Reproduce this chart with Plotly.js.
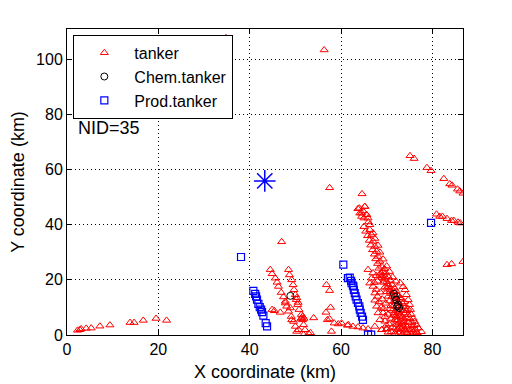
<!DOCTYPE html>
<html>
<head>
<meta charset="utf-8">
<script src="https://cdn.plot.ly/plotly-3.0.1.min.js"></script>
<style>html,body{margin:0;padding:0;background:#fff;}#chart{width:512px;height:384px;}</style>
</head>
<body>
<div id="chart"></div>
<script>
// ---- data (km) ----
const tankerX = [
  2.3,2.8,3.1,4.2,5.3,7.2,9.4,13.8,14.7,16.7,19.5,21.8,
  34.8,56.3,57.5,47.0,
  75.1,76.0,78.8,79.7,82.5,83.8,84.3,85.5,86.0,86.7,
  80.9,81.6,82.2,83.2,84.2,84.7,85.6,86.1,
  83.2,84.2,86.7,
  64.6,63.7,65.2,64.1,64.8,65.6,64.5,65.9,
  44.5,44.9,45.6,46.0,46.3,46.9,47.4,47.8,48.1,48.5,49.1,49.6,50.0,50.3,
  48.5,48.7,49.2,49.5,49.7,50.0,50.2,50.5,50.8,51.3,51.6,51.8,52.1,51.8,
  44.9,45.4,46.7,47.8,48.9,49.2,51.4,51.6,51.2,51.9,54.0,52.9,53.3,50.7,50.6,50.3,
  56.8,57.5,57.7,56.7,57.0,57.5,58.5,59.4,57.9,61.4,
  60.1,61.6,62.6,63.7,64.8,65.9,67.4,68.9,70.0,
  64.0,64.5,65.0,65.0,65.4,65.8,66.2,66.5,66.9,67.3,67.6,68.0,68.3,68.7,69.0,69.3,69.6,70.0,70.3,70.6,70.9,71.2,71.5,71.8,72.1,72.4,72.6,
  65.2,65.6,66.0,66.3,66.7,67.0,67.4,67.8,68.1,68.5,68.9,69.2,69.6,70.0,70.4,70.8,71.2,71.6,72.0,72.4,72.8,73.2,73.6,74.0,
  66.3,67.0,67.4,68.1,68.5,69.2,70.0,70.6,71.3,72.0,73.0,73.6,74.0,74.3,74.7,75.0,75.2,75.4,75.8,76.1,76.5,76.9,77.6,
  65.9,66.7,66.3,67.0,67.4,67.4,67.8,68.1,68.5,69.6,68.9,70.0,
  68.5,69.0,69.5,70.2,70.0,70.7,71.0,71.5,71.8,72.3,72.0,72.6,73.0,73.2,73.5,73.8,74.0,73.0,72.2,73.8,74.4,74.8,73.3,72.8,74.5,75.5,73.0,74.5,75.8,72.0,73.5,71.0,70.5,69.3,69.8,70.3,71.0,69.0,68.6,68.0,67.7,
  69.5,69.8,70.4,70.8,71.2,71.7,72.1,72.6,73.1,73.5,74.0,74.3,74.7,75.1,75.5,75.9,76.3,76.6,
  67.0,67.3,67.7,68.0,68.3,68.8,69.2,69.6,69.9,70.3,71.3,71.7,
  70.8,71.4,71.6,72.0,72.5,73.0,73.4,73.7,74.1,72.7,72.2,71.9,73.9,74.9,75.2,76.2,73.2,74.6,75.6,76.8
];
const tankerY = [
  1.7,1.9,2.2,2.4,2.5,3.2,3.6,4.5,4.5,5.3,6.0,5.3,
  107.8,103.4,53.4,33.8,
  65.0,64.0,60.7,59.6,56.7,54.8,54.3,52.9,52.2,51.4,
  43.8,43.0,43.0,42.2,41.5,41.5,40.9,40.6,
  25.5,25.8,26.6,
  51.2,45.8,46.6,44.2,45.0,43.6,43.0,42.4,
  23.7,22.2,20.6,19.1,17.6,15.4,13.8,12.2,10.4,8.6,6.7,4.9,3.1,1.3,
  23.7,21.8,20.0,18.2,16.4,14.6,12.8,11.0,9.2,7.4,5.5,3.7,1.9,0.1,
  9.2,8.8,8.2,11.6,9.8,5.5,6.2,6.8,5.8,6.0,6.2,0.5,0.8,1.9,11.8,13.5,
  18.2,16.1,10.0,8.2,5.5,5.8,4.3,4.0,1.3,3.5,
  4.3,3.7,3.1,2.9,2.5,2.2,3.1,1.9,2.2,
  46.0,44.2,42.4,39.3,37.6,36.0,34.3,32.6,30.9,29.3,27.6,25.9,24.2,22.5,20.8,19.1,17.4,15.7,14.0,12.3,10.6,8.9,7.2,5.5,3.8,2.1,0.5,
  46.6,43.6,41.0,38.2,36.3,34.0,32.1,30.3,28.5,26.7,24.9,23.0,21.2,19.4,17.6,15.8,14.0,12.2,10.4,8.6,6.8,5.0,3.2,1.4,
  40.0,37.0,35.0,32.5,30.0,27.5,25.0,23.0,21.0,19.5,18.8,17.5,16.4,14.6,12.8,11.0,9.2,7.4,6.0,4.9,3.7,2.5,1.2,
  23.7,20.6,18.8,17.6,15.2,12.6,10.4,8.0,5.5,6.7,1.9,2.2,
  22.0,21.5,20.3,18.5,17.0,16.5,15.0,16.0,13.0,14.5,12.0,11.5,13.5,10.0,9.0,12.0,8.0,7.5,6.5,5.8,6.2,4.5,4.0,2.8,2.8,2.0,1.0,0.8,1.0,0.3,0.3,1.2,4.0,9.5,11.5,7.5,6.0,13.0,15.5,19.5,21.5,
  24.0,22.5,21.0,19.8,18.2,17.0,15.8,14.2,13.0,11.3,10.2,8.8,7.3,5.8,4.6,3.3,2.0,0.8,
  22.5,19.0,16.5,14.0,12.0,10.0,8.0,5.0,3.5,1.0,2.8,0.5,
  9.5,10.5,8.0,7.0,8.0,9.0,6.5,4.8,3.6,4.5,5.0,2.5,2.0,1.8,0.5,0.3,2.2,9.6,3.2,0.4
];
const chemX = [48.9,71.6,71.8,72.1,72.3,72.5,72.7];
const chemY = [14.2,14.9,13.8,12.8,10.4,11.0,9.8];
const prodX = [38.1,40.8,41.2,41.4,41.6,41.9,42.2,42.5,42.7,43.0,43.5,43.8,
  60.5,61.5,61.9,62.2,62.3,62.6,62.7,62.8,63.0,63.2,63.4,63.7,64.0,64.1,64.3,64.6,64.8,
  65.9,66.6,79.7];
const prodY = [28.3,16.0,14.9,14.0,12.8,11.3,10.1,9.2,8.3,7.0,4.3,3.1,
  25.5,20.6,20.8,19.6,18.8,17.9,17.6,16.4,15.2,14.0,12.8,11.6,10.4,9.2,8.0,6.7,5.5,
  0.1,0.1,40.7];
const siteX = [43.3];
const siteY = [55.9];
const seriesNames = ['tanker','Chem.tanker','Prod.tanker'];
const xTicks = [0,20,40,60,80];
const yTicks = [0,20,40,60,80,100];
const noteText = 'NID=35';

const FONT = 'Liberation Sans, Arial, Helvetica, sans-serif';
const traces = [
  {x: tankerX, y: tankerY, name: seriesNames[0], type: 'scatter', mode: 'markers',
   marker: {symbol: 'triangle-up-open', size: 7, color: '#ff0000', line: {width: 1, color: '#ff0000'}}},
  {x: chemX, y: chemY, name: seriesNames[1], type: 'scatter', mode: 'markers',
   marker: {symbol: 'circle-open', size: 7, color: '#000000', line: {width: 1, color: '#000000'}}},
  {x: prodX, y: prodY, name: seriesNames[2], type: 'scatter', mode: 'markers',
   marker: {symbol: 'square-open', size: 7, color: '#0000ff', line: {width: 1.2, color: '#0000ff'}}},
  {x: siteX, y: siteY, type: 'scatter', mode: 'markers', showlegend: false,
   marker: {symbol: 'asterisk-open', size: 18, color: '#0000ff', line: {width: 1.5, color: '#0000ff'}}}
];
const axisBase = {
  showline: true, linecolor: '#000', linewidth: 1, mirror: 'ticks',
  ticks: 'inside', ticklen: 5, tickcolor: '#000',
  showgrid: true, gridcolor: '#000', gridwidth: 1, griddash: '1px,3px',
  zeroline: false, tickfont: {family: FONT, size: 16, color: '#000'},
  automargin: false
};
const layout = {
  width: 512, height: 384,
  paper_bgcolor: '#fff', plot_bgcolor: '#fff',
  margin: {l: 67, r: 49, t: 29, b: 49},
  showlegend: true,
  xaxis: Object.assign({}, axisBase, {range: [0, 86.7], tickvals: xTicks,
    title: {text: 'X coordinate (km)', font: {family: FONT, size: 18, color: '#000'}, standoff: 8}}),
  yaxis: Object.assign({}, axisBase, {range: [0, 111], tickvals: yTicks,
    title: {text: 'Y coordinate (km)', font: {family: FONT, size: 18, color: '#000'}, standoff: 6}}),
  legend: {x: 0.016, y: 0.981, xanchor: 'left', yanchor: 'top',
    bgcolor: '#fff', bordercolor: '#000', borderwidth: 1,
    font: {family: FONT, size: 16, color: '#000'}, itemwidth: 50, tracegroupgap: 0},
  annotations: [{xref: 'paper', yref: 'paper', x: 0.022, y: 0.677, xanchor: 'left', yanchor: 'middle',
    text: noteText, showarrow: false, font: {family: FONT, size: 18, color: '#000'}}]
};
Plotly.newPlot('chart', traces, layout, {displayModeBar: false, staticPlot: true});
</script>
</body>
</html>
